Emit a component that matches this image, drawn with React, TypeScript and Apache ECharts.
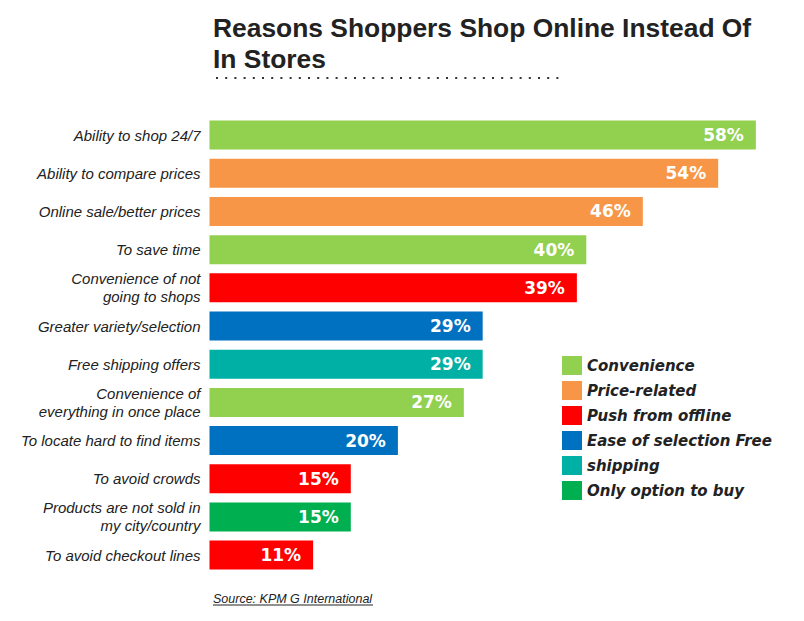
import { useEffect, useRef } from "react";
import * as echarts from "echarts";

// Reasons shoppers shop online instead of in stores (source: KPMG International)

const CATEGORIES = [
  "Ability to shop 24/7",
  "Ability to compare prices",
  "Online sale/better prices",
  "To save time",
  "Convenience of not\ngoing to shops",
  "Greater variety/selection",
  "Free shipping offers",
  "Convenience of\neverything in once place",
  "To locate hard to find items",
  "To avoid crowds",
  "Products are not sold in\nmy city/country",
  "To avoid checkout lines",
];

const VALUES = [58, 54, 46, 40, 39, 29, 29, 27, 20, 15, 15, 11];

// index into GROUPS for each category
const GROUP_OF = [0, 1, 1, 0, 2, 3, 4, 0, 3, 2, 5, 2];

const GROUPS = [
  "Convenience",
  "Price-related",
  "Push from offline",
  "Ease of selection Free",
  "shipping",
  "Only option to buy",
];

const GROUP_COLORS = ["#92D050", "#F79646", "#FF0000", "#0070C0", "#00B0A4", "#00B050"];

const TEXT = "#222222";

export default function App() {
  const chartRef = useRef<HTMLDivElement>(null);

  useEffect(() => {
    document.body.style.margin = "0";
    if (!chartRef.current) return;
    const chart = echarts.init(chartRef.current, null, { renderer: "svg" });

    const series = GROUPS.map((name, g) => ({
      name,
      type: "bar" as const,
      stack: "all",
      barWidth: 29,
      itemStyle: { color: GROUP_COLORS[g] },
      label: {
        show: true,
        position: "insideRight" as const,
        distance: 12,
        formatter: "{c}%",
        color: "#fff",
        fontFamily: "DejaVu Sans",
        fontWeight: "bold" as const,
        fontSize: 17,
      },
      data: VALUES.map((v, i) => (GROUP_OF[i] === g ? v : "-")),
    }));

    chart.setOption({
      animation: false,
      title: {
        text: "Reasons Shoppers Shop Online Instead Of\nIn Stores",
        left: 213,
        top: 12,
        padding: 0,
        textStyle: {
          fontFamily: "Liberation Sans",
          fontWeight: "bold",
          fontSize: 26.4,
          lineHeight: 31,
          color: TEXT,
        },
      },
      legend: {
        orient: "vertical",
        left: 562,
        top: 356,
        padding: 0,
        itemWidth: 20,
        itemHeight: 19,
        itemGap: 6,
        icon: "rect",
        selectedMode: false,
        data: GROUPS,
        textStyle: {
          fontFamily: "DejaVu Sans",
          fontStyle: "oblique",
          fontWeight: "bold",
          fontSize: 15,
          color: TEXT,
          padding: [0, 0, 5, 0],
        },
      },
      grid: { left: 209.5, top: 116, width: 565.2, height: 458.2 },
      xAxis: {
        type: "value",
        min: 0,
        max: 60,
        show: false,
      },
      yAxis: {
        type: "category",
        data: CATEGORIES,
        inverse: true,
        axisLine: { show: false },
        axisTick: { show: false },
        axisLabel: {
          margin: 9,
          fontFamily: "Liberation Sans",
          fontStyle: "italic",
          fontSize: 15,
          lineHeight: 18,
          color: TEXT,
          padding: [0, 0, 3, 0],
        },
      },
      graphic: [
        {
          type: "line",
          shape: { x1: 216, y1: 78, x2: 563, y2: 78 },
          style: { stroke: "#333", lineWidth: 2, lineDash: [2, 7.2] },
        },
        {
          type: "text",
          x: 213,
          y: 598.5,
          style: {
            text: "Source: KPM G International",
            font: "italic 12.5px 'Liberation Sans'",
            fill: TEXT,
            verticalAlign: "middle",
          },
        },
        {
          type: "line",
          shape: { x1: 213, y1: 605, x2: 373, y2: 605 },
          style: { stroke: TEXT, lineWidth: 1 },
        },
      ],
      series,
    });

    return () => {
      chart.dispose();
    };
  }, []);

  return <div ref={chartRef} style={{ width: 804, height: 621 }} />;
}
